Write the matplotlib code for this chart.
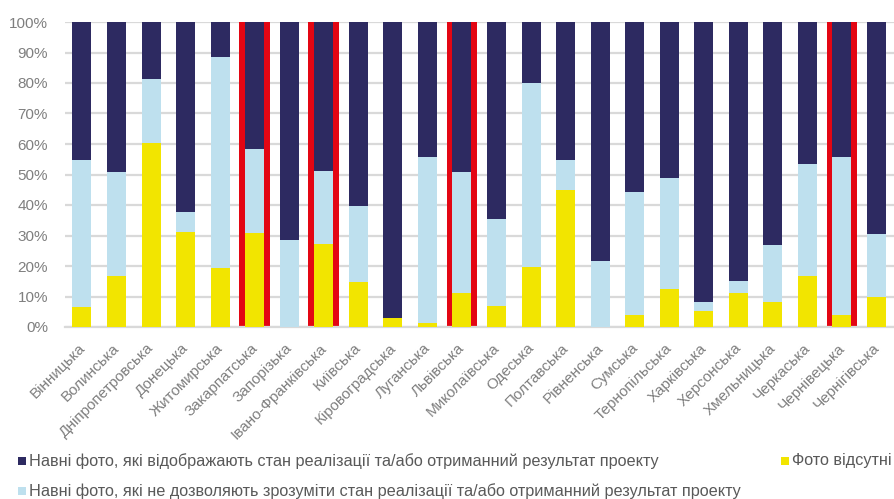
import matplotlib
matplotlib.use("Agg")
import matplotlib.pyplot as plt
from matplotlib.patches import Rectangle
from matplotlib.ticker import PercentFormatter
from matplotlib.transforms import ScaledTranslation
import numpy as np

regions = ["Вінницька", "Волинська", "Дніпропетровська", "Донецька", "Житомирська",
           "Закарпатська", "Запорізька", "Івано-Франківська", "Київська", "Кіровоградська",
           "Луганська", "Львівська", "Миколаївська", "Одеська", "Полтавська",
           "Рівненська", "Сумська", "Тернопільська", "Харківська", "Херсонська",
           "Хмельницька", "Черкаська", "Чернівецька", "Чернігівська"]
no_photo = [6.6, 16.8, 60.3, 31.0, 19.3, 30.8, 0.0, 27.1, 14.6, 2.9, 1.2, 11.0,
            6.8, 19.7, 44.8, 0.0, 4.0, 12.6, 5.4, 11.3, 8.2, 16.8, 3.8, 10.0]
unclear_top = [54.8, 50.8, 81.3, 37.8, 88.6, 58.2, 28.5, 51.3, 39.8, 2.9, 55.7, 50.7,
               35.5, 79.9, 54.8, 21.7, 44.2, 48.7, 8.2, 15.1, 26.9, 53.5, 55.8, 30.5]
highlighted = ["Закарпатська", "Івано-Франківська", "Львівська", "Чернівецька"]

legend_labels = ["Навні фото, які відображають стан реалізації та/або отриманний результат проекту",
                 "Навні фото, які не дозволяють зрозуміти стан реалізації та/або отриманний результат проекту",
                 "Фото відсутні"]

no_photo = np.array(no_photo)
unclear = np.array(unclear_top) - no_photo
good = 100 - np.array(unclear_top)

C_NAVY = "#2D2A61"
C_LBLUE = "#BEE0EE"
C_YEL = "#F2E500"
C_RED = "#E30613"
C_GRAY = "#7F7F7F"

plt.rcParams['font.family'] = ['Liberation Sans', 'DejaVu Sans']

W, H = 895, 499
fig = plt.figure(figsize=(8.95, 4.99), dpi=100)
ax = fig.add_axes([64.7 / W, 1 - 327 / H, (893.8 - 64.7) / W, 305 / H])

x = np.arange(len(regions))
hl = np.array([r in highlighted for r in regions])
ax.bar(x[hl], np.full(hl.sum(), 100.0), width=0.89, color=C_RED, zorder=2)
w = 0.55
ax.bar(x, no_photo, width=w, color=C_YEL, zorder=3)
ax.bar(x, unclear, width=w, bottom=no_photo, color=C_LBLUE, zorder=3)
ax.bar(x, good, width=w, bottom=np.array(unclear_top), color=C_NAVY, zorder=3)

ax.set_xlim(-0.5, len(regions) - 0.5)
ax.set_ylim(0, 100)
ax.set_yticks(np.arange(0, 101, 10))
ax.yaxis.set_major_formatter(PercentFormatter(decimals=0))
ax.grid(axis='y', color="#D9D9D9", linewidth=1.6, zorder=0)
ax.set_axisbelow(True)
for s in ['top', 'right', 'left']:
    ax.spines[s].set_visible(False)
ax.spines['bottom'].set_color("#D9D9D9")
ax.spines['bottom'].set_linewidth(1.6)
ax.tick_params(axis='both', length=0, colors=C_GRAY, labelsize=11)
ax.tick_params(axis='y', pad=12)
ax.set_xticks(x)
ax.set_xticklabels(regions, rotation=45, ha='right', va='top', rotation_mode='anchor')
ax.tick_params(axis='x', pad=10)
off = ScaledTranslation(-3 / 72, 0, fig.dpi_scale_trans)
for lbl in ax.get_xticklabels():
    lbl.set_transform(lbl.get_transform() + off)

# legend (manual, Excel-like layout)
sq = 8
items = [(legend_labels[0], C_NAVY, 18, 461), (legend_labels[1], C_LBLUE, 18, 491),
         (legend_labels[2], C_YEL, 781, 461)]
for lab, col, px, py in items:
    fig.add_artist(Rectangle((px / W, 1 - (py + sq / 2) / H), sq / W, sq / H,
                             transform=fig.transFigure, color=col, lw=0))
    fig.text((px + sq + 3) / W, 1 - py / H, lab, ha='left', va='center',
             fontsize=11.7, color="#595959")

fig.savefig("out.png", dpi=100)
